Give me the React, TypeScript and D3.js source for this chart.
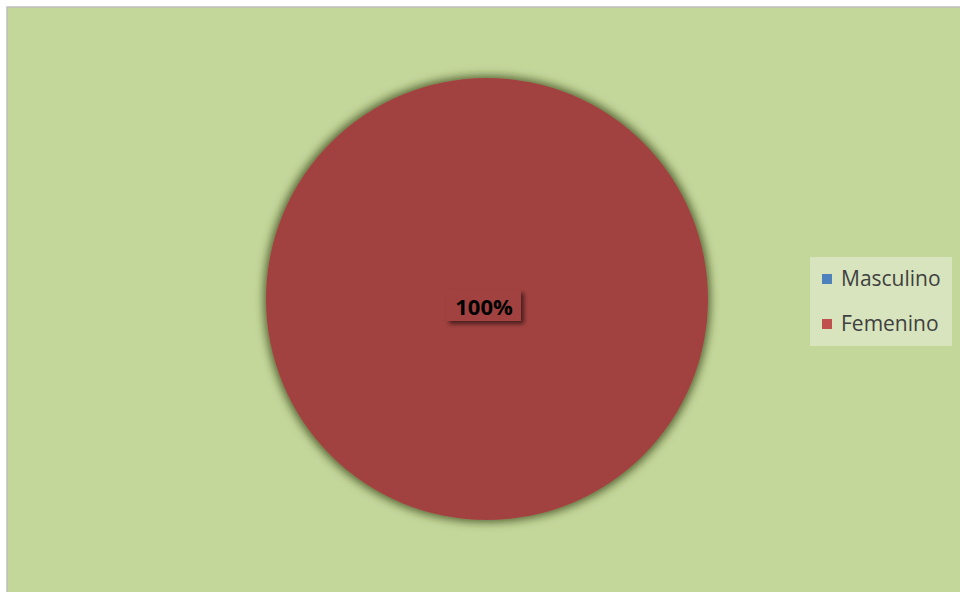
import React from "react";
import * as d3 from "d3";

const categories = ["Masculino", "Femenino"];
const values = [0, 100];
const colors = ["#4F81BD", "#C0504D"];
const sliceColors = ["#4F81BD", "#A24341"];

export default function App() {
  const W = 960, H = 592;
  const cx = 487, cy = 299, r = 221;
  const pie = d3.pie<number>().sort(null).value((d) => d);
  const arcs = pie(values);
  const arc = d3.arc<d3.PieArcDatum<number>>().innerRadius(0).outerRadius(r);
  const total = d3.sum(values);
  const fmt = d3.format(".0%");
  return (
    <svg width={W} height={H} style={{ position: "absolute", left: 0, top: 0 }} fontFamily="Open Sans, Liberation Sans, sans-serif">
      <defs>
        <filter id="shadow" x="-50%" y="-50%" width="200%" height="200%">
          <feDropShadow dx="3" dy="3" stdDeviation="2" floodColor="#000" floodOpacity="0.55" />
        </filter>
        <filter id="sh" x="-4%" y="-4%" width="108%" height="108%">
          <feMorphology in="SourceAlpha" operator="dilate" radius="2" result="d" />
          <feGaussianBlur in="d" stdDeviation="5" result="b" />
          <feFlood floodColor="#3c4a1c" floodOpacity="0.85" />
          <feComposite operator="in" in2="b" result="s" />
          <feMerge>
            <feMergeNode in="s" />
            <feMergeNode in="SourceGraphic" />
          </feMerge>
        </filter>
      </defs>
      <rect x={0} y={0} width={W} height={H} fill="#ffffff" />
      <rect x={7} y={7} width={W} height={H} fill="#C4D79B" stroke="#BFBFBF" strokeWidth={1.5} />
      <g transform={`translate(${cx},${cy})`} filter="url(#sh)">
        {arcs.map((a, i) =>
          a.endAngle - a.startAngle > 0 ? (
            <path key={categories[i]} d={arc(a) || ""} fill={sliceColors[i]} />
          ) : null
        )}
      </g>
      {arcs.map((a, i) => {
        if (values[i] === 0) return null;
        const [lx, ly] = values[i] === total ? [0, 0] : arc.centroid(a);
        const label = fmt(values[i] / total);
        return (
          <g key={"l" + i} transform={`translate(${cx + lx},${cy + ly + 9})`}>
            <rect x={-41} y={-18} width={75} height={31} fill={sliceColors[i]} filter="url(#shadow)" />
            <text x={-3} y={7} textAnchor="middle" fontSize={22} fontWeight="bold" fill="#000">
              {label}
            </text>
          </g>
        );
      })}
      <rect x={810} y={257} width={142} height={89} fill="#D7E4BD" />
      {categories.map((c, i) => (
        <g key={c} transform={`translate(822,${279 + i * 45})`}>
          <rect x={0} y={-5} width={10} height={10} fill={colors[i]} />
          <text x={19} y={7} fontSize={21} fill="#404040">{c}</text>
        </g>
      ))}
    </svg>
  );
}
